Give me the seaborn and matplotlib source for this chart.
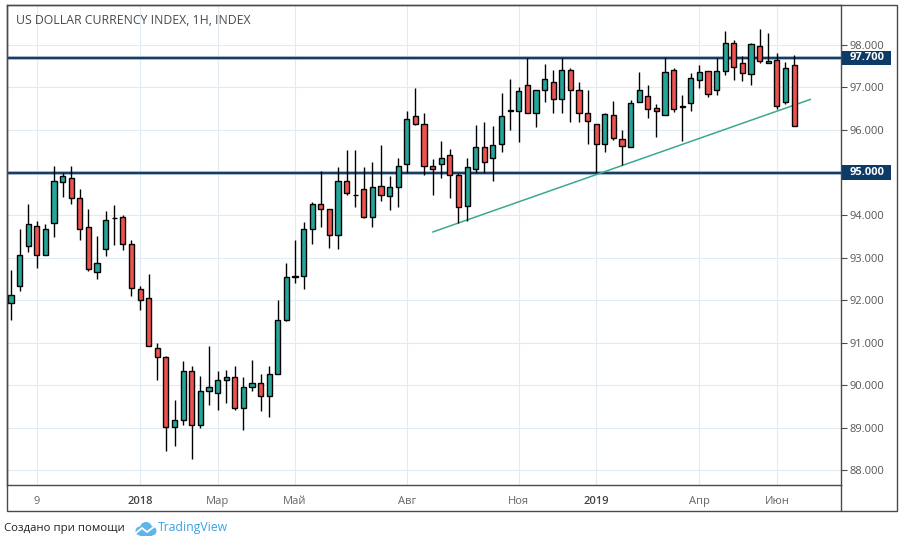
import numpy as np
import pandas as pd
import matplotlib
matplotlib.use("Agg")
import matplotlib.pyplot as plt
import matplotlib.transforms as mtransforms
from matplotlib.patches import Rectangle, Circle
from matplotlib.lines import Line2D
import seaborn as sns

# weekly candles
opens = [91.92, 92.32, 93.28, 93.75, 93.07, 93.82, 94.78, 94.86, 94.41, 93.71,
         92.67, 93.21, 93.92, 93.96, 93.31, 92.27, 92.06, 90.88, 90.67, 89.02,
         89.19, 90.32, 89.07, 89.87, 89.82, 90.11, 90.20, 89.47, 89.96, 90.06,
         89.75, 90.25, 91.52, 92.55, 92.56, 93.66, 94.25, 94.15, 93.54, 94.79,
         94.48, 94.62, 93.96, 94.69, 94.44, 94.65, 95.19, 96.32, 96.13, 95.16,
         95.19, 95.42, 94.93, 94.22, 95.09, 95.61, 95.35, 95.66, 96.44, 96.44,
         97.05, 96.41, 96.93, 97.12, 96.72, 97.42, 96.93, 96.39, 96.15, 95.66,
         96.35, 95.78, 95.59, 96.65, 96.79, 96.51, 96.35, 97.40, 96.56, 96.63,
         97.17, 97.38, 96.93, 97.38, 98.04, 97.57, 97.31, 97.97, 97.57, 97.64,
         96.65, 97.52]
highs = [92.70, 93.67, 94.27, 93.85, 93.80, 95.15, 95.00, 95.15, 94.62, 94.15,
         93.50, 94.09, 94.23, 94.00, 93.41, 92.33, 92.62, 90.98, 90.69, 89.64,
         90.56, 90.44, 90.22, 90.93, 90.34, 90.36, 90.44, 90.18, 90.60, 90.27,
         90.46, 91.99, 92.88, 93.41, 93.83, 94.31, 95.03, 94.15, 95.12, 95.53,
         95.53, 95.14, 95.24, 95.64, 94.91, 95.35, 96.44, 96.98, 96.39, 95.31,
         95.74, 95.56, 94.98, 95.35, 96.11, 96.18, 96.09, 96.87, 97.20, 97.00,
         97.70, 96.93, 97.55, 97.42, 97.70, 97.45, 97.12, 96.95, 96.15, 96.39,
         96.68, 96.00, 96.70, 97.36, 97.07, 96.60, 97.71, 97.45, 96.82, 97.33,
         97.52, 97.38, 97.69, 98.33, 98.11, 97.73, 98.04, 98.38, 98.28, 97.80,
         97.59, 97.76]
lows = [91.53, 92.22, 93.13, 92.76, 93.05, 93.49, 94.43, 94.27, 93.41, 92.69,
        92.49, 93.03, 93.29, 93.17, 92.10, 91.76, 90.93, 90.11, 88.45, 88.57,
        89.05, 88.26, 88.98, 89.52, 89.42, 89.59, 89.42, 88.95, 89.85, 89.38,
        89.24, 90.25, 91.50, 92.39, 92.27, 93.31, 93.72, 93.23, 93.20, 94.46,
        94.19, 93.94, 93.73, 94.32, 94.11, 94.18, 95.00, 96.11, 94.95, 94.46,
        94.88, 94.39, 93.82, 93.85, 95.00, 94.98, 94.81, 95.49, 96.01, 95.71,
        96.41, 96.06, 96.65, 96.39, 96.39, 96.18, 96.18, 95.66, 95.00, 95.49,
        95.76, 95.18, 95.59, 96.65, 96.29, 95.84, 96.35, 96.42, 95.75, 96.44,
        96.98, 96.77, 96.82, 97.29, 97.17, 97.15, 97.05, 97.57, 97.57, 96.49,
        96.60, 96.09]
closes = [92.13, 93.07, 93.80, 93.05, 93.66, 94.81, 94.91, 94.39, 93.66, 92.74,
          92.88, 93.89, 93.92, 93.31, 92.29, 92.01, 90.93, 90.67, 89.02, 89.19,
          90.32, 89.07, 89.87, 89.96, 90.11, 90.18, 89.47, 89.96, 90.06, 89.75,
          90.25, 91.52, 92.55, 92.55, 93.66, 94.25, 94.15, 93.52, 94.79, 94.51,
          94.46, 93.96, 94.67, 94.46, 94.67, 95.16, 96.27, 96.13, 95.16, 95.09,
          95.33, 94.95, 94.20, 95.12, 95.59, 95.24, 95.64, 96.32, 96.48, 96.91,
          96.41, 96.93, 97.19, 96.72, 97.42, 96.95, 96.39, 96.20, 95.66, 96.37,
          95.80, 95.62, 96.63, 96.93, 96.49, 96.44, 97.36, 96.49, 96.54, 97.22,
          97.36, 96.84, 97.38, 98.04, 97.47, 97.33, 98.02, 97.62, 97.62, 96.56,
          97.45, 96.09]

tick_pos = [3, 15, 24, 33, 46, 59, 68, 80, 89]
tick_labels = ["9", "2018", "Мар", "Май", "Авг", "Ноя", "2019", "Апр", "Июн"]
price_ticks = [88, 89, 90, 91, 92, 93, 94, 95, 96, 97, 98]
levels = [97.7, 95.0]
trend_x = [49.0, 92.9]
trend_y = [93.60, 96.72]

df = pd.DataFrame({"open": opens, "high": highs, "low": lows, "close": closes})
df["i"] = np.arange(len(df))
up = df["close"] >= df["open"]

sns.set_style("white")
plt.rcParams["font.family"] = ["Open Sans", "DejaVu Sans"]

W, H = 904, 543
fig = plt.figure(figsize=(W / 100, H / 100), dpi=100)
ax = fig.add_axes([7 / W, (H - 485) / H, (841 - 7) / W, (485 - 5) / H])

GREEN = "#26a69a"
RED = "#ef5350"
NAVY = "#0d3b66"
FRAME = "#4a4a4a"

# grid
for t in tick_pos:
    ax.axvline(t, color="#e1ebf3", lw=0.8, zorder=0)
for p in price_ticks:
    ax.axhline(p, color="#e1ebf3", lw=0.8, zorder=0)

# support / resistance
for lv in levels:
    ax.axhline(lv, color="#8ea6bf", lw=2.6, zorder=1)
    ax.axhline(lv, color="#163a61", lw=1.4, zorder=1.1)

# trend line
sns.lineplot(x=trend_x, y=trend_y, ax=ax, color="#3aa892", lw=1.1, zorder=1.5)

# candles
ax.vlines(df["i"], df["low"], df["high"], color="black", lw=1.0, zorder=2)
body_h = (df["close"] - df["open"]).abs().clip(lower=0.01)
body_b = df[["open", "close"]].min(axis=1)
ax.bar(df["i"], body_h, bottom=body_b, width=0.6,
       color=np.where(up, GREEN, RED), edgecolor="black", lw=1.0, zorder=3)

ax.set_xlim(-0.465, 96.45)
ax.set_ylim(87.65, 98.94)

ax.set_xticks(tick_pos)
ax.set_xticklabels(tick_labels)
ax.set_yticks(price_ticks)
ax.set_yticklabels(["%.3f" % p for p in price_ticks])
ax.yaxis.tick_right()
ax.tick_params(axis="y", direction="out", length=4, width=0.8, color=FRAME,
               labelsize=8, labelcolor="#555555", pad=2)
ax.tick_params(axis="x", direction="out", length=4, width=0.8, color=FRAME,
               labelsize=8, labelcolor="#666666", pad=4)
for lab in ax.get_xticklabels():
    if lab.get_text() in ("2018", "2019"):
        lab.set_color("#444444")
        lab.set_fontweight("semibold")

for s in ax.spines.values():
    s.set_color(FRAME)
    s.set_linewidth(1.0)

# price labels for the levels
tr = mtransforms.blended_transform_factory(ax.transAxes, ax.transData)
bw = (891 - 842) / (841 - 7)
for lv in levels:
    ax.add_patch(Rectangle((1.0015, lv - 0.165), bw, 0.33, transform=tr,
                           facecolor=NAVY, edgecolor="none", clip_on=False, zorder=10))
    ax.text(1.0015 + bw / 2, lv, "%.3f" % lv, transform=tr, ha="center", va="center",
            color="white", fontsize=8, fontweight="bold", zorder=11, clip_on=False)

# outer frame
fig.add_artist(Rectangle((7 / W, (H - 511) / H), (897 - 7) / W, (511 - 5) / H,
                         transform=fig.transFigure, fill=False, edgecolor=FRAME, lw=1.0))
fig.add_artist(Line2D([841 / W, 841 / W], [(H - 511) / H, (H - 485) / H],
                      transform=fig.transFigure, color=FRAME, lw=1.0))

fig.text(16 / W, 1 - 21 / H, "US DOLLAR CURRENCY INDEX, 1H, INDEX", fontsize=8.8,
         color="#4a4a4a", va="center", ha="left")

# footer
fig.text(4 / W, 1 - 528 / H, "Создано при помощи", fontsize=8.2, color="#222222",
         va="center", ha="left")
fig.text(158 / W, 1 - 528 / H, "TradingView", fontsize=8.8, color="#3aa3e3",
         va="center", ha="left")
lax = fig.add_axes([134 / W, 1 - 537 / H, 23 / W, 17 / H])
lax.set_xlim(0, 23)
lax.set_ylim(0, 17)
lax.axis("off")
for cx, cy, r in [(6, 6, 4.5), (12, 9, 6.0), (18, 6, 4.5)]:
    lax.add_patch(Circle((cx, cy), r, color="#5db5ea", lw=0))
lax.add_patch(Rectangle((6, 1.5), 12, 5, color="#5db5ea", lw=0))
lax.plot([2, 8, 13, 21], [4, 9, 5, 11], color="white", lw=1.3)

fig.savefig("out.png", dpi=100)
